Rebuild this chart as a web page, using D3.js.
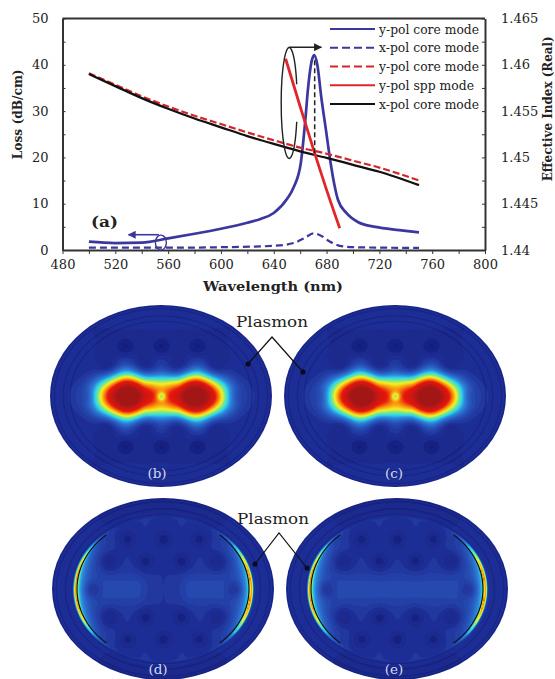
<!DOCTYPE html>
<html>
<head>
<meta charset="utf-8">
<script src="https://cdn.jsdelivr.net/npm/d3@7"></script>
<style>
  html, body { margin: 0; padding: 0; background: #fff; }
  svg text { font-family: "DejaVu Serif", serif; fill: #222; }
  .axis path, .axis line { stroke: #333; }
  .axis path { stroke-width: 2; }
</style>
</head>
<body>
<svg class="chart"></svg>
<script>
//-----------------------------------------------------------------------
// values
//-----------------------------------------------------------------------
const xTicks = [480, 520, 560, 600, 640, 680, 720, 760, 800]
const lossTicks = [0, 10, 20, 30, 40, 50]
const indexTicks = [1.44, 1.445, 1.45, 1.455, 1.46, 1.465]

// loss curves (left axis)
const yCoreLossWl = [500, 520, 540, 560, 580, 600, 620, 630, 640, 650, 655, 660.5, 663.7, 666, 668.5, 670.7, 673, 676, 679.5, 682.7, 686, 688.7, 695, 704, 717, 735, 750]
const yCoreLoss = [1.8, 1.5, 1.6, 2.5, 3.5, 4.6, 5.9, 6.7, 8, 11, 13.5, 18.8, 27.4, 35, 40.5, 42.1, 40, 33, 26, 19.5, 14, 10.8, 8, 6, 5, 4.3, 3.8]
const xCoreLossWl = [500, 560, 600, 640, 655, 664, 670, 675, 682, 690, 700, 750]
const xCoreLoss = [0.5, 0.5, 0.6, 0.9, 1.5, 2.7, 3.6, 3.2, 1.9, 0.9, 0.6, 0.45]

// effective index curves (right axis)
const indexWl = [500, 520, 540, 560, 580, 600, 620, 640, 660, 680, 700, 720, 750]
const yCoreIndex = [1.4591, 1.45785, 1.4566, 1.4555, 1.4545, 1.4536, 1.4527, 1.45185, 1.45105, 1.4504, 1.44965, 1.4489, 1.4475]
const xCoreIndex = [1.459, 1.4577, 1.4564, 1.45525, 1.4542, 1.45325, 1.4523, 1.45145, 1.45065, 1.44995, 1.4492, 1.44845, 1.447]
const sppWl = [649, 660, 672, 680, 690]
const sppIndex = [1.46065, 1.4555, 1.45, 1.4465, 1.44235]

const legendLabels = ['y-pol core mode', 'x-pol core mode', 'y-pol core mode', 'y-pol spp mode', 'x-pol core mode']
const legendColors = ['#3b379f', '#3b379f', '#d8232a', '#e0262a', '#111']
const legendDash = [false, true, true, false, false]

// field maps: panel centres are in page pixels, the rest in pixels from the centre
const panelNames = ['(b)', '(c)', '(d)', '(e)']
const panelCx = [161, 395, 163, 397]
const panelCy = [396, 396, 589, 589]
const holeU = [-36, 0, 36, -54, -18, 18, 54, -72, 72, -54, -18, 18, 54, -36, 0, 36]
const holeV = [-50, -50, -50, -28, -28, -28, -28, 0, 0, 28, 28, 28, 28, 50, 50, 50]
const lobeU = [-32, 32]
const glowColumns = [-36, 0, 36]

//-----------------------------------------------------------------------
// setting up SVG + dimensions
//-----------------------------------------------------------------------
const width = 555
const height = 679
const padding = ({top: 18.5, right: 70, bottom: 429, left: 62.5})

const svg = d3.select('svg.chart')
  .attr('width', width)
  .attr('height', height)
  .attr('viewBox', `0 0 ${width} ${height}`)
  .style('display', 'block')

const xScale = d3.scaleLinear().domain([480, 800]).range([padding.left, width - padding.right])
const lossScale = d3.scaleLinear().domain([0, 50]).range([height - padding.bottom, padding.top])
const indexScale = d3.scaleLinear().domain([1.44, 1.465]).range([height - padding.bottom, padding.top])

//--------------------AXES----------------------//
const minorX = d3.range(480, 801, 20)
const minorLoss = d3.range(0, 51, 5)

svg.append('g').attr('class', 'axis')
  .attr('transform', `translate(0, ${lossScale(0)})`)
  .call(d3.axisBottom(xScale).tickValues(minorX).tickSize(4).tickSizeOuter(0)
    .tickPadding(6)
    .tickFormat(d => xTicks.includes(d) ? d : ''))

svg.append('g').attr('class', 'axis')
  .attr('transform', `translate(${xScale(480)}, 0)`)
  .call(d3.axisLeft(lossScale).tickValues(minorLoss).tickSize(-3).tickSizeOuter(0)
    .tickPadding(14)
    .tickFormat(d => lossTicks.includes(d) ? d : ''))

svg.append('g').attr('class', 'axis')
  .attr('transform', `translate(${xScale(800)}, 0)`)
  .call(d3.axisRight(indexScale).tickValues(d3.range(0, 11).map(i => 1.44 + i * 0.0025)).tickSize(-3).tickSizeOuter(0)
    .tickPadding(16)
    .tickFormat(d => {
      const hit = indexTicks.find(t => Math.abs(t - d) < 1e-6)
      return hit ? String(hit) : ''
    }))

svg.selectAll('.axis text').style('font-size', '13px').style('font-family', '"DejaVu Serif", serif').attr('fill', '#222')
svg.selectAll('.axis').attr('font-family', null)

// top border
svg.append('line')
  .attr('x1', xScale(480)).attr('x2', xScale(800))
  .attr('y1', lossScale(50)).attr('y2', lossScale(50))
  .attr('stroke', '#333').attr('stroke-width', 2)

// axis titles
svg.append('text')
  .attr('x', 273).attr('y', 291)
  .attr('text-anchor', 'middle')
  .attr('textLength', 140)
  .attr('lengthAdjust', 'spacingAndGlyphs')
  .style('font-size', '13.5px').style('font-weight', 'bold')
  .text('Wavelength (nm)')

svg.append('text')
  .attr('transform', `translate(22, ${lossScale(29.3)}) rotate(-90)`)
  .attr('text-anchor', 'middle')
  .attr('textLength', 90)
  .attr('lengthAdjust', 'spacingAndGlyphs')
  .style('font-size', '13px').style('font-weight', 'bold')
  .text('Loss (dB/cm)')

svg.append('text')
  .attr('transform', `translate(552, ${lossScale(30.5)}) rotate(-90)`)
  .attr('text-anchor', 'middle')
  .attr('textLength', 145)
  .attr('lengthAdjust', 'spacingAndGlyphs')
  .style('font-size', '13px').style('font-weight', 'bold')
  .text('Effective Index (Real)')

svg.append('text')
  .attr('x', 91).attr('y', 227)
  .attr('textLength', 27)
  .attr('lengthAdjust', 'spacingAndGlyphs')
  .style('font-size', '15px').style('font-weight', 'bold')
  .text('(a)')

//--------------------CURVES----------------------//
const lossLine = d3.line().x(d => xScale(d[0])).y(d => lossScale(d[1])).curve(d3.curveMonotoneX)
const indexLine = d3.line().x(d => xScale(d[0])).y(d => indexScale(d[1])).curve(d3.curveMonotoneX)

function drawCurve(path, color, w, dash) {
  svg.append('path')
    .attr('d', path)
    .attr('fill', 'none')
    .attr('stroke', color)
    .attr('stroke-width', w)
    .attr('stroke-dasharray', dash ? dash : null)
}

drawCurve(lossLine(d3.zip(yCoreLossWl, yCoreLoss)), '#3b379f', 2.7)
drawCurve(lossLine(d3.zip(xCoreLossWl, xCoreLoss)), '#3b379f', 2.2, '7 4')
drawCurve(indexLine(d3.zip(indexWl, yCoreIndex)), '#d8232a', 2.2, '7 3')
drawCurve(indexLine(d3.zip(indexWl, xCoreIndex)), '#111', 2.3)
drawCurve(indexLine(d3.zip(sppWl, sppIndex)), '#e0262a', 2.8)

// dashed drop line from the loss peak to the crossing
svg.append('line')
  .attr('x1', xScale(671)).attr('x2', xScale(671))
  .attr('y1', lossScale(41)).attr('y2', lossScale(20.5))
  .attr('stroke', '#222').attr('stroke-width', 1.5).attr('stroke-dasharray', '5 3')

//--------------------ANNOTATIONS----------------------//
svg.append('defs').append('marker')
  .attr('id', 'head').attr('viewBox', '0 0 10 10')
  .attr('refX', 9).attr('refY', 5)
  .attr('markerWidth', 9).attr('markerHeight', 8)
  .attr('markerUnits', 'userSpaceOnUse')
  .attr('orient', 'auto')
  .append('path').attr('d', 'M0,0L10,5L0,10Z').attr('fill', '#222')

svg.select('defs').append('marker')
  .attr('id', 'headBlue').attr('viewBox', '0 0 10 10')
  .attr('refX', 9).attr('refY', 5)
  .attr('markerWidth', 9).attr('markerHeight', 8)
  .attr('markerUnits', 'userSpaceOnUse')
  .attr('orient', 'auto')
  .append('path').attr('d', 'M0,0L10,5L0,10Z').attr('fill', '#3b379f')

// big ring, open on its right side
svg.append('path')
  .attr('d', `M${xScale(657.4)},${lossScale(27.7)} A8,55.5 0 1 1 ${xScale(657.4)},${lossScale(35.8)}`)
  .attr('fill', 'none').attr('stroke', '#222').attr('stroke-width', 1.4)

svg.append('line')
  .attr('x1', xScale(651.6)).attr('x2', xScale(676))
  .attr('y1', lossScale(43.8)).attr('y2', lossScale(43.8))
  .attr('stroke', '#222').attr('stroke-width', 1.5)
  .attr('marker-end', 'url(#head)')

// small ring + arrow for the loss axis
svg.append('ellipse')
  .attr('cx', xScale(554.5)).attr('cy', lossScale(1.6))
  .attr('rx', 5.5).attr('ry', 7.5)
  .attr('fill', 'none').attr('stroke', '#3b379f').attr('stroke-width', 1.4)

svg.append('line')
  .attr('x1', xScale(553)).attr('x2', xScale(530))
  .attr('y1', lossScale(3.3)).attr('y2', lossScale(3.3))
  .attr('stroke', '#3b379f').attr('stroke-width', 1.6)
  .attr('marker-end', 'url(#headBlue)')

//--------------------LEGEND----------------------//
const legendY = d3.scalePoint().domain(d3.range(legendLabels.length)).range([29, 104])

const legend = svg.selectAll('g.legendRow')
  .data(legendLabels)
  .enter()
  .append('g')
  .attr('class', 'legendRow')
  .attr('transform', (d, i) => `translate(0, ${legendY(i)})`)

legend.append('line')
  .attr('x1', 330).attr('x2', 375)
  .attr('stroke', (d, i) => legendColors[i])
  .attr('stroke-width', 2)
  .attr('stroke-dasharray', (d, i) => legendDash[i] ? '8 4' : null)

legend.append('text')
  .attr('x', 379).attr('y', 4.5)
  .attr('textLength', (d, i) => i === 3 ? 95 : 100)
  .attr('lengthAdjust', 'spacingAndGlyphs')
  .style('font-size', '12.5px')
  .text(d => d)

//--------------------FIELD MAPS----------------------//
// colour ramp of the solver's rainbow map
const jet = d3.scaleLinear()
  .domain([0, 0.08, 0.18, 0.27, 0.34, 0.43, 0.52, 0.62, 0.75, 1.05])
  .range(['#101a70', '#1e2e96', '#2a5cc0', '#2f8ee0', '#2ad8ea', '#7fe68a', '#f4f020', '#f89a10', '#e81810', '#a01818'])
  .clamp(true)

const rx = 111
const ry = 91
const gridStep = 1
const gridW = Math.ceil(2 * rx / gridStep) + 1
const gridH = Math.ceil(2 * ry / gridStep) + 1
const thresholds = d3.range(0.02, 1.05, 0.02)

function holeShade(u, v, strength) {
  let s = 1
  holeU.forEach((hu, k) => {
    const r2 = ((u - hu) ** 2 + (v - holeV[k]) ** 2) / 90
    s *= 1 - strength * Math.exp(-r2)
  })
  return s
}

// core mode: two bright lobes either side of the centre
function coreField(u, v) {
  let f = 0.08
  glowColumns.forEach(c => {
    f += 0.08 * Math.exp(-(((u - c) / 9) ** 2) - ((v / 36) ** 2))
  })
  f += 0.05 * Math.exp(-((v / 16) ** 2) - ((u / 85) ** 4))
  f *= holeShade(u, v, 0.6)
  lobeU.forEach(c => {
    const sx = Math.abs(u) < Math.abs(c) ? 24 : 31
    const r2 = ((u - c) / sx) ** 2 + (v / 20) ** 2
    f += 1.0 * Math.exp(-(r2 ** 1.15))
  })
  f += 0.2 * Math.exp(-((u / 15) ** 4) - ((v / 21) ** 4))
  f -= 0.24 * Math.exp(-((u ** 2 + v ** 2) / 18))
  return f
}

// plasmon mode: energy sits on the metal ring at left and right
function ringField(u, v, p) {
  const rho = Math.sqrt((u / 87) ** 2 + (v / 73) ** 2)
  const d = (rho - 1) * 87
  let f = rho < 1 ? 0.1 : 0.08
  const band = p === 2 ? Math.min(1, (Math.abs(u) / 25) ** 2) : 1
  f += 0.05 * Math.exp(-((v / 18) ** 2)) * band * (rho < 1 ? 1 : 0)
  f *= holeShade(u, v, 0.5)
  const side = Math.exp(-((v / 42) ** 4))
  if (rho < 1) f += 0.28 * side * Math.exp(d / 7)
  else f += 0.1 * side * Math.exp(-d / 3)
  f += 0.5 * Math.exp(-((v / 46) ** 4)) * Math.exp(-(((d - 1) / 1.6) ** 2))
  return f
}

const defs = svg.select('defs')
defs.append('filter').attr('id', 'soft')
  .attr('x', '-5%').attr('y', '-5%').attr('width', '110%').attr('height', '110%')
  .append('feGaussianBlur').attr('stdDeviation', 0.7)

panelNames.forEach((name, p) => {
  const cx = panelCx[p]
  const cy = panelCy[p]

  const values = new Float64Array(gridW * gridH)
  for (let j = 0; j < gridH; j++) {
    for (let i = 0; i < gridW; i++) {
      const u = i * gridStep - rx
      const v = j * gridStep - ry
      values[j * gridW + i] = p < 2 ? coreField(u, v) : ringField(u, v, p)
    }
  }

  const contours = d3.contours().size([gridW, gridH]).thresholds(thresholds)(values)
  const path = d3.geoPath(d3.geoIdentity().scale(gridStep))

  defs.append('clipPath').attr('id', `clip${p}`)
    .append('ellipse').attr('cx', rx).attr('cy', ry).attr('rx', rx).attr('ry', ry)

  const panel = svg.append('g')
    .attr('class', 'panel')
    .attr('transform', `translate(${cx - rx}, ${cy - ry})`)

  const inner = panel.append('g')
    .attr('clip-path', `url(#clip${p})`)
    .append('g')
    .attr('filter', 'url(#soft)')

  inner.append('rect').attr('width', 2 * rx).attr('height', 2 * ry).attr('fill', jet(0.02))

  inner.selectAll('path')
    .data(contours)
    .enter()
    .append('path')
    .attr('d', path)
    .attr('fill', d => jet(d.value))

  // faint ripples in the cladding
  const ripples = [0.99, 0.96, 0.88, 0.82]
  inner.selectAll('ellipse')
    .data(ripples)
    .enter()
    .append('ellipse')
    .attr('cx', rx).attr('cy', ry)
    .attr('rx', d => rx * d).attr('ry', d => ry * d)
    .attr('fill', 'none')
    .attr('stroke', '#0e1560')
    .attr('stroke-opacity', 0.35)
    .attr('stroke-width', 1.2)

  // dark metal line on the plasmon panels
  if (p >= 2) {
    const arc = d3.line()
      .x(d => rx + 86 * d[0] * Math.cos(d[1]))
      .y(d => ry + 72 * Math.sin(d[1]))
    const angles = d3.range(-0.85, 0.86, 0.05)
    inner.append('path').attr('d', arc(angles.map(a => [1, a])))
      .attr('fill', 'none').attr('stroke', '#06121a').attr('stroke-width', 1.2)
    inner.append('path').attr('d', arc(angles.map(a => [-1, a])))
      .attr('fill', 'none').attr('stroke', '#06121a').attr('stroke-width', 1.2)
  }

  panel.append('text')
    .attr('x', rx + (p === 0 ? -4 : p === 2 ? -5 : p === 3 ? -3 : -1))
    .attr('y', p < 2 ? 82 + ry : 85 + ry)
    .attr('text-anchor', 'middle')
    .style('font-size', '13.5px')
    .style('fill', '#d4dcec')
    .text(name)
})

//--------------------PLASMON CALLOUTS----------------------//
const calloutLabelY = [327, 524]
const calloutApex = [[272, 337], [279, 533]]
const calloutLeft = [[248, 364], [255, 564]]
const calloutRight = [[303, 372], [307, 568]]

calloutLabelY.forEach((y, k) => {
  svg.append('text')
    .attr('x', k === 0 ? 236 : 237).attr('y', y)
    .attr('textLength', 72)
    .attr('lengthAdjust', 'spacingAndGlyphs')
    .style('font-size', '14px')
    .text('Plasmon')

  svg.append('path')
    .attr('d', d3.line()([calloutLeft[k], calloutApex[k], calloutRight[k]]))
    .attr('fill', 'none')
    .attr('stroke', '#111')
    .attr('stroke-width', 1.2)

  svg.append('circle')
    .attr('cx', calloutLeft[k][0]).attr('cy', calloutLeft[k][1])
    .attr('r', 2.6).attr('fill', '#0a0a20')
  svg.append('circle')
    .attr('cx', calloutRight[k][0]).attr('cy', calloutRight[k][1])
    .attr('r', 2.6).attr('fill', '#0a0a20')
})
</script>
</body>
</html>
